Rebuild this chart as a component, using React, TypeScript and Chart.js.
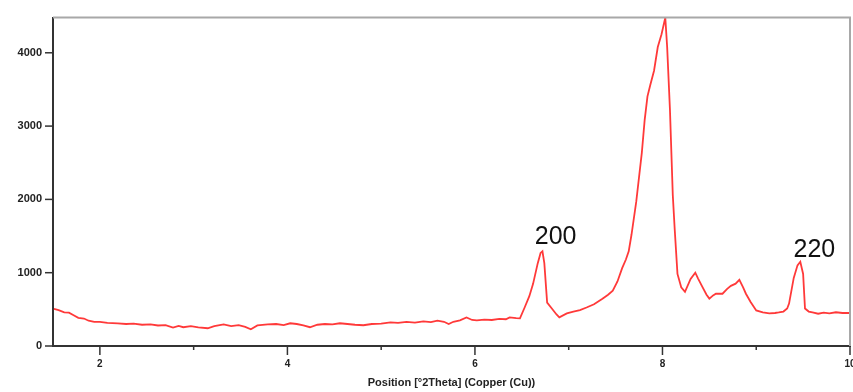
import React, { useEffect, useRef } from "react";
import { Chart, registerables } from "chart.js";

Chart.register(...registerables);

const twoTheta: number[] = [
  1.51, 1.56, 1.62, 1.67, 1.72, 1.77, 1.83, 1.88, 1.94, 2.0, 2.08, 2.19, 2.28, 2.36, 2.45, 2.54, 2.62, 2.7, 2.78, 2.84,
  2.89, 2.97, 3.05, 3.15, 3.22, 3.32, 3.4, 3.48, 3.55, 3.61, 3.68, 3.79, 3.88, 3.96, 4.03, 4.1, 4.17, 4.24, 4.32, 4.4,
  4.48, 4.56, 4.64, 4.72, 4.81, 4.9, 5.0, 5.1, 5.18, 5.27, 5.36, 5.45, 5.53, 5.6, 5.67, 5.72, 5.77, 5.84, 5.91, 5.97,
  6.02, 6.1, 6.18, 6.26, 6.33, 6.37, 6.44, 6.48, 6.53, 6.58, 6.62, 6.67, 6.7, 6.72, 6.74, 6.77, 6.82, 6.87, 6.9, 6.98,
  7.05, 7.12, 7.19, 7.27, 7.36, 7.42, 7.47, 7.52, 7.57, 7.61, 7.64, 7.67, 7.72, 7.78, 7.81, 7.84, 7.87, 7.91, 7.95, 7.99,
  8.03, 8.05, 8.08, 8.11, 8.13, 8.16, 8.2, 8.24, 8.3, 8.35, 8.38, 8.42, 8.47, 8.5, 8.54, 8.57, 8.64, 8.69, 8.73, 8.78,
  8.82, 8.86, 8.89, 8.94, 9.0, 9.07, 9.14, 9.2, 9.24, 9.29, 9.33, 9.35, 9.4, 9.44, 9.47, 9.5, 9.52, 9.56, 9.6, 9.66,
  9.72, 9.78, 9.85, 9.92, 9.99,
];

const intensity: number[] = [
  505, 490, 460, 455, 420, 385, 375, 345, 330, 330, 315, 310, 300, 305, 290, 296, 280, 285, 250, 275,
  256, 270, 255, 242, 270, 296, 270, 285, 260, 229, 280, 296, 300, 285, 310, 300, 280, 256, 290, 300,
  295, 310, 300, 290, 283, 300, 305, 323, 315, 330, 320, 337, 325, 345, 330, 300, 330, 350, 390, 355,
  350, 360, 355, 370, 365, 390, 380, 377, 525, 680, 848, 1130, 1270, 1292, 1130, 592, 511, 430, 390, 444,
  470, 490, 525, 570, 646, 700, 754, 880, 1063, 1180, 1292, 1521, 1965, 2638, 3082, 3405, 3560, 3755, 4078, 4253,
  4480, 4078, 3217, 2059, 1602, 983, 800, 740, 915, 1000, 920, 820, 700, 646, 690, 713, 713, 780, 821, 850,
  902, 800, 713, 600, 485, 460, 444, 450, 458, 470, 511, 579, 929, 1100, 1150, 983, 511, 470, 458, 440,
  455, 444, 460, 450, 450,
];

const xTickValues: number[] = [2, 3, 4, 5, 6, 7, 8, 9, 10];
const xTickLabels: string[] = ["2", "", "4", "", "6", "", "8", "", "10"];
const yTickValues: number[] = [0, 1000, 2000, 3000, 4000];

const peakLabels: string[] = ["200", "220"];
const peakLabelX: number[] = [6.86, 9.62];
const peakLabelY: number[] = [1480, 1305];

const xMin = 1.5;
const xMax = 10;
const yMin = 0;
const yMax = 4480;
const xAxisTitle = "Position [°2Theta] (Copper (Cu))";
const FONT = "'Liberation Sans', Arial, sans-serif";

export default function App() {
  const ref = useRef<HTMLCanvasElement | null>(null);

  useEffect(() => {
    if (!ref.current) return;
    const points = twoTheta.map((x, i) => ({ x, y: intensity[i] }));

    const framePlugin = {
      id: "frame",
      afterDraw(chart: any) {
        const { ctx, chartArea, scales } = chart;
        const { left, right, top, bottom } = chartArea;
        ctx.save();
        ctx.strokeStyle = "#a8a8a8";
        ctx.lineWidth = 2;
        ctx.beginPath();
        ctx.moveTo(left, top);
        ctx.lineTo(right, top);
        ctx.lineTo(right, bottom);
        ctx.stroke();
        ctx.strokeStyle = "#333";
        ctx.lineWidth = 1.5;
        const xs = scales.x;
        xs.ticks.forEach((t: any) => {
          const px = xs.getPixelForValue(t.value);
          const len = xTickLabels[xTickValues.indexOf(t.value)] ? 9 : 4;
          ctx.beginPath();
          ctx.moveTo(px, bottom);
          ctx.lineTo(px, bottom + len);
          ctx.stroke();
        });
        const ys = scales.y;
        ys.ticks.forEach((t: any) => {
          const py = ys.getPixelForValue(t.value);
          ctx.beginPath();
          ctx.moveTo(left - 8, py);
          ctx.lineTo(left, py);
          ctx.stroke();
        });
        ctx.fillStyle = "#111";
        ctx.font = `25px ${FONT}`;
        ctx.textAlign = "center";
        ctx.textBaseline = "middle";
        peakLabels.forEach((lab, i) => {
          ctx.fillText(lab, xs.getPixelForValue(peakLabelX[i]), ys.getPixelForValue(peakLabelY[i]));
        });
        ctx.restore();
      },
    };

    const chart = new Chart(ref.current, {
      type: "scatter",
      data: {
        datasets: [
          {
            data: points,
            showLine: true,
            borderColor: "rgba(255,36,36,0.9)",
            borderWidth: 1.8,
            pointRadius: 0,
            tension: 0,
            fill: false,
          },
        ],
      },
      options: {
        animation: false,
        responsive: false,
        layout: { padding: { top: 13, right: 20, left: 0, bottom: 0 } },
        plugins: { legend: { display: false }, tooltip: { enabled: false } },
        scales: {
          x: {
            type: "linear",
            min: xMin,
            max: xMax,
            grid: { display: false, drawTicks: false },
            border: { display: true, color: "#333", width: 2 },
            afterBuildTicks: (s: any) => {
              s.ticks = xTickValues.map((v) => ({ value: v }));
            },
            afterFit: (s: any) => {
              s.height = 46;
            },
            ticks: {
              autoSkip: false,
              maxRotation: 0,
              padding: 12,
              color: "#222",
              font: { size: 10, weight: "bold", family: FONT },
              callback: (v: any) => {
                const i = xTickValues.indexOf(Number(v));
                return i >= 0 ? xTickLabels[i] : "";
              },
            },
            title: {
              display: true,
              text: xAxisTitle,
              color: "#222",
              font: { size: 11, weight: "bold", family: FONT },
              padding: { top: 0, bottom: 2 },
            },
          },
          y: {
            type: "linear",
            min: yMin,
            max: yMax,
            grid: { display: false, drawTicks: false },
            border: { display: true, color: "#333", width: 2 },
            afterBuildTicks: (s: any) => {
              s.ticks = yTickValues.map((v) => ({ value: v }));
            },
            afterFit: (s: any) => {
              s.width = 53;
            },
            ticks: {
              autoSkip: false,
              padding: 11,
              color: "#222",
              font: { size: 11, weight: "bold", family: FONT },
              callback: (v: any) => String(v),
            },
          },
        },
      },
      plugins: [framePlugin],
    });
    return () => chart.destroy();
  }, []);

  return (
    <div
      style={{
        position: "fixed",
        left: 0,
        top: 0,
        width: 853,
        height: 392,
        overflow: "hidden",
        background: "#fff",
      }}
    >
      <canvas ref={ref} width={870} height={392} style={{ display: "block" }} />
    </div>
  );
}
